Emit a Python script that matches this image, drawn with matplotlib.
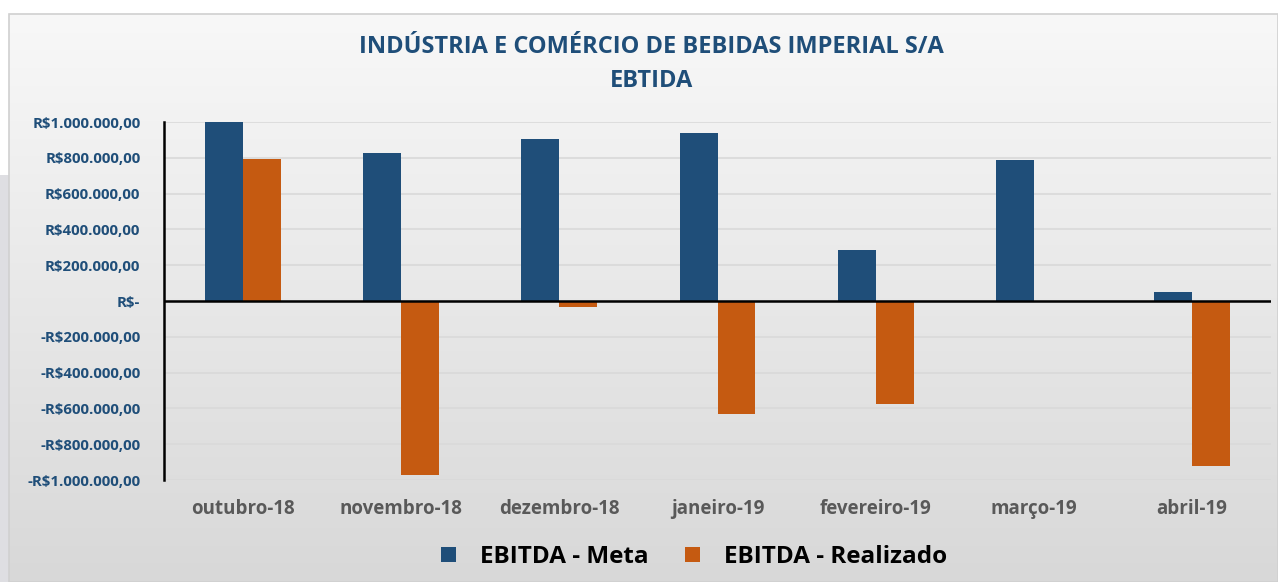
import matplotlib
matplotlib.use("Agg")
import matplotlib.pyplot as plt
import numpy as np
from matplotlib.patches import Rectangle
from matplotlib.ticker import FixedLocator
from matplotlib.colors import LinearSegmentedColormap

categories = ["outubro-18", "novembro-18", "dezembro-18", "janeiro-19",
              "fevereiro-19", "março-19", "abril-19"]
meta = [1000000, 826000, 905000, 938000, 283000, 787000, 53000]
realizado = [795000, -972000, -36000, -630000, -574000, 0, -921000]
yticks = [1000000, 800000, 600000, 400000, 200000, 0, -200000, -400000,
          -600000, -800000, -1000000]
ytick_labels = ["R$1.000.000,00", "R$800.000,00", "R$600.000,00", "R$400.000,00",
                "R$200.000,00", "R$-", "-R$200.000,00", "-R$400.000,00",
                "-R$600.000,00", "-R$800.000,00", "-R$1.000.000,00"]
title_lines = ["INDÚSTRIA E COMÉRCIO DE BEBIDAS IMPERIAL S/A", "EBTIDA"]
series_names = ["EBITDA - Meta", "EBITDA - Realizado"]

C_META = "#1F4E79"
C_REAL = "#C55A11"
FONT = ["Open Sans", "DejaVu Sans"]
plt.rcParams['font.family'] = FONT

W, H = 1278, 582
fig = plt.figure(figsize=(W / 100, H / 100), dpi=100)
fig.patch.set_facecolor("white")

# background: left gray strip and gradient chart box
bg = fig.add_axes([0, 0, 1, 1])
bg.set_xlim(0, W)
bg.set_ylim(H, 0)
bg.axis("off")
bg.add_patch(Rectangle((0, 175), 9, H - 175, facecolor="#DEDEE2", edgecolor="none"))
grad = np.linspace(0, 1, 256).reshape(-1, 1)
cm = LinearSegmentedColormap.from_list("g", ["#F8F8F8", "#D8D8D8"])
bg.imshow(grad, extent=(9, W, H, 14), cmap=cm, aspect="auto", zorder=1)
bg.add_patch(Rectangle((9, 14), W - 9, H - 14, facecolor="none",
                       edgecolor="#D0D0D0", linewidth=1.2, zorder=2))

# title
fig.text(651 / W, 1 - 47 / H, title_lines[0], ha="center", va="center",
         fontsize=17, fontweight="bold", color=C_META)
fig.text(651 / W, 1 - 81 / H, title_lines[1], ha="center", va="center",
         fontsize=17, fontweight="bold", color=C_META)

# plot area: x 164..1271, y 122..480
x0, x1, yt, yb = 164, 1271, 122, 480
ax = fig.add_axes([x0 / W, 1 - yb / H, (x1 - x0) / W, (yb - yt) / H])
ax.patch.set_alpha(0)
x = np.arange(len(categories))
bw = 0.24
ax.bar(x - bw / 2, meta, bw, color=C_META, zorder=3, label=series_names[0])
ax.bar(x + bw / 2, realizado, bw, color=C_REAL, zorder=3, label=series_names[1])
ax.set_xlim(-0.5, len(categories) - 0.5)
ax.set_ylim(-1000000, 1000000)
ax.yaxis.set_major_locator(FixedLocator(yticks))
ax.set_yticklabels(ytick_labels)
for t in ax.get_yticklabels():
    t.set_fontweight("bold")
    t.set_color(C_META)
    t.set_fontsize(10.8)
ax.tick_params(axis="y", length=0, pad=17)
ax.tick_params(axis="x", length=0, pad=14)
ax.set_xticks(x)
ax.set_xticklabels(categories, fontsize=13.5, fontweight="bold", color="#595959")
ax.grid(axis="y", color="#D9D9D9", linewidth=1.2, zorder=0)
for s in ["top", "right", "bottom"]:
    ax.spines[s].set_visible(False)
ax.spines["left"].set_color("black")
ax.spines["left"].set_linewidth(1.8)
ax.axhline(0, color="black", linewidth=1.8, zorder=4)

leg = fig.legend(loc="center", bbox_to_anchor=(694 / W, 1 - 557 / H), ncol=2,
                 frameon=False, prop={"family": FONT, "weight": "bold", "size": 17.5},
                 handlelength=0.6, handleheight=0.6, columnspacing=1.5,
                 handletextpad=1.0)
for t in leg.get_texts():
    t.set_color("black")

fig.savefig("out.png", dpi=100)
